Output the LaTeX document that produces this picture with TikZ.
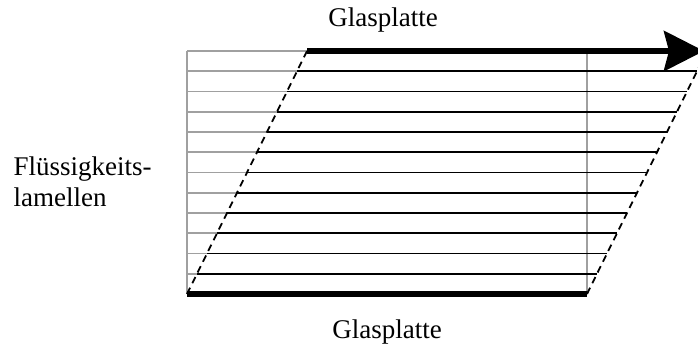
\documentclass[tikz,border=0pt]{standalone}
\usepackage{fontspec}
\setmainfont{Liberation Serif}
\usetikzlibrary{arrows.meta}
\definecolor{rim}{HTML}{A0A0A0}

\begin{document}
\begin{tikzpicture}[x=1pt, y=1pt, font=\fontsize{27}{31}\selectfont, plate/.style={line width=6pt}, layer/.style={line width=1.8pt}, rest/.style={draw=rim, line width=1.8pt}, shear/.style={line width=1.8pt, dash pattern=on 7pt off 5pt}]
    \useasboundingbox (0,0) rectangle (698,346);
    \clip (0,0) rectangle (698,346);
    \coordinate (bl) at (187,52);
    \coordinate (br) at (587,52);
    \coordinate (tl) at (307,295);
    \coordinate (tr) at (707,295);
    \coordinate (tip) at (704,295);
    % ruhende Lage
    \draw[rest] (bl) -- (187,295) (br) -- (587,295);
    \foreach \k in {1,...,12}
      \draw[rest] (187,52+\k*20.25) -- (187+\k*10,52+\k*20.25);
    % verschobene Lamellen
    \foreach \k in {1,...,11}
      \draw[layer] (187+\k*10,52+\k*20.25) -- (587+\k*10,52+\k*20.25);
    \draw[shear] (bl) -- (tl) (br) -- (tr);
    \draw[plate] (bl) -- (br);
    \draw[plate, -{Stealth[length=40pt, width=40pt, inset=5pt]}] (tl) -- (tip);
    \node[anchor=base] (top) at (383,319) {Glasplatte};
    \node[anchor=base] (bottom) at (387,8) {Glasplatte};
    \node[anchor=west, align=left] (fluid) at (10,164) {Flüssigkeits-\\lamellen};
  \end{tikzpicture}
\end{document}
